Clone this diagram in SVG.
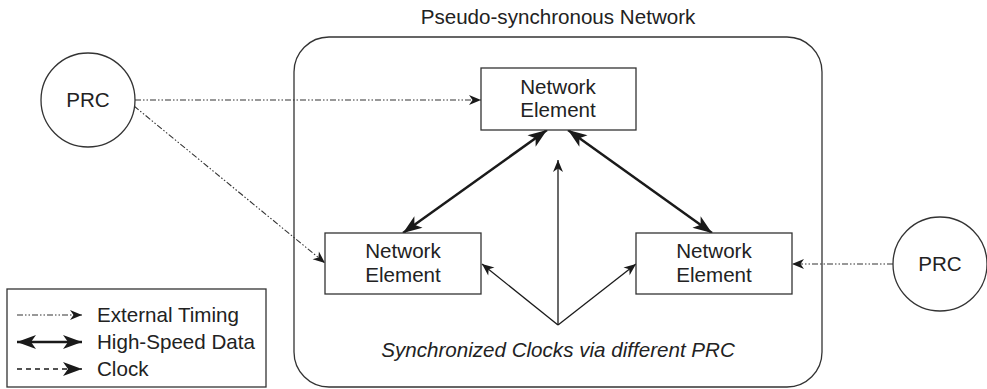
<svg xmlns="http://www.w3.org/2000/svg" width="987" height="389" viewBox="0 0 987 389">
<defs>
<style>
text{font-family:"Liberation Sans",Arial,sans-serif;font-size:20.6px;fill:#222}
.c{text-anchor:middle}
.box{fill:#fff;stroke:#333;stroke-width:1.3}
.ext{fill:none;stroke:#333;stroke-width:1.1;stroke-dasharray:6 2 1.5 2 1.5 2}
.hs{fill:none;stroke:#1a1a1a;stroke-width:2.5}
.clk{fill:none;stroke:#1a1a1a;stroke-width:1.3}
.dash{fill:none;stroke:#1a1a1a;stroke-width:1.5;stroke-dasharray:5 4}
</style>
<marker id="ah" markerUnits="userSpaceOnUse" markerWidth="12" markerHeight="10" refX="12" refY="5" orient="auto-start-reverse" overflow="visible">
<path d="M0,0 L12,5 L0,10 L3.5,5 Z" fill="#1a1a1a"/>
</marker>
<marker id="ahb" markerUnits="userSpaceOnUse" markerWidth="19" markerHeight="14" refX="19" refY="7" orient="auto-start-reverse" overflow="visible">
<path d="M0,0 L19,7 L0,14 L5,7 Z" fill="#1a1a1a"/>
</marker>
</defs>
<rect width="987" height="389" fill="#fff"/>
<g id="network">
<rect x="294" y="37" width="528" height="350" rx="35" ry="35" fill="none" stroke="#333" stroke-width="1.3"/>
<text class="c" x="558" y="24">Pseudo-synchronous Network</text>
<text class="c" x="558" y="357" font-style="italic">Synchronized Clocks via different PRC</text>
</g>
<g id="connectors">
<line class="ext" x1="135" y1="100" x2="481" y2="100" marker-end="url(#ah)"/>
<line class="ext" x1="134" y1="106" x2="325" y2="263" marker-end="url(#ah)"/>
<line class="ext" x1="893" y1="264" x2="792" y2="264" marker-end="url(#ah)"/>
<line class="hs" x1="547" y1="130" x2="403" y2="233" marker-start="url(#ahb)" marker-end="url(#ahb)"/>
<line class="hs" x1="568" y1="130" x2="712" y2="233" marker-start="url(#ahb)" marker-end="url(#ahb)"/>
<line class="clk" x1="558" y1="325" x2="558" y2="160" marker-end="url(#ah)"/>
<line class="clk" x1="558" y1="325" x2="482" y2="264" marker-end="url(#ah)"/>
<line class="clk" x1="558" y1="325" x2="636" y2="264" marker-end="url(#ah)"/>
</g>
<g id="prc-left">
<circle cx="88" cy="100" r="47" fill="#fff" stroke="#333" stroke-width="1.3"/>
<text class="c" x="88" y="107">PRC</text>
</g>
<g id="prc-right">
<circle cx="940" cy="264" r="47" fill="#fff" stroke="#333" stroke-width="1.3"/>
<text class="c" x="940" y="271">PRC</text>
</g>
<g id="ne-top">
<rect class="box" x="481" y="68" width="155" height="62"/>
<text class="c" x="558" y="94">Network</text>
<text class="c" x="558" y="117">Element</text>
</g>
<g id="ne-left">
<rect class="box" x="325" y="233" width="156" height="61"/>
<text class="c" x="403" y="258">Network</text>
<text class="c" x="403" y="282">Element</text>
</g>
<g id="ne-right">
<rect class="box" x="636" y="233" width="156" height="61"/>
<text class="c" x="714" y="258">Network</text>
<text class="c" x="714" y="282">Element</text>
</g>
<g id="legend">
<rect x="7" y="289" width="259" height="98" fill="#fff" stroke="#333" stroke-width="1.3"/>
<line class="ext" x1="17" y1="315" x2="82" y2="315" marker-end="url(#ah)"/>
<text x="97" y="322">External Timing</text>
<line class="hs" x1="17" y1="342" x2="82" y2="342" marker-start="url(#ahb)" marker-end="url(#ahb)"/>
<text x="97" y="349">High-Speed Data</text>
<line class="dash" x1="17" y1="369" x2="82" y2="369" marker-end="url(#ahb)"/>
<text x="97" y="376">Clock</text>
</g>
</svg>
